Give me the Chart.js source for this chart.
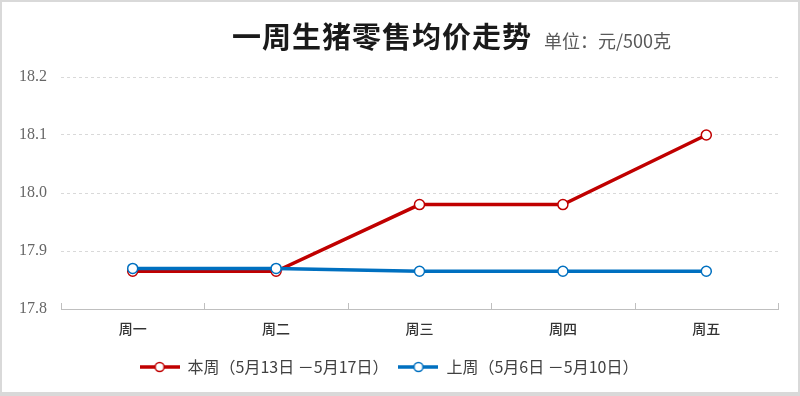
<!DOCTYPE html>
<html><head><meta charset="utf-8">
<script src="https://cdn.jsdelivr.net/npm/chart.js@4/dist/chart.umd.min.js"></script>
<style>
html,body{margin:0;padding:0;background:#fff;}
#wrap{position:relative;width:800px;height:396px;overflow:hidden;background:#fff;}
#frame{position:absolute;left:0;top:0;width:800px;height:396px;box-sizing:border-box;border:2px solid #d9d9d9;border-bottom:4px solid #d9d9d9;pointer-events:none;}
#title{position:absolute;left:232px;top:14px;white-space:nowrap;font-family:"Noto Sans CJK SC",sans-serif;}
#title .main{font-size:29px;font-weight:bold;color:#1a1a1a;letter-spacing:1px;}
#title .unit{font-size:18px;color:#595959;margin-left:12px;}
canvas{position:absolute;left:0;top:0;}
</style>
</head><body>
<div id="wrap">
<canvas id="c" width="800" height="396"></canvas>
<div id="title"><span class="main">一周生猪零售均价走势</span><span class="unit">单位：元/500克</span></div>
<div id="frame"></div>
</div>
<script>
const categories = ['周一','周二','周三','周四','周五'];
const thisWeekLabel = '本周（5月13日 －5月17日）';
const lastWeekLabel = '上周（5月6日 －5月10日）';
const thisWeek = [17.865, 17.865, 17.98, 17.98, 18.10];
const lastWeek = [17.87, 17.87, 17.865, 17.865, 17.865];
const yTicks = [17.8, 17.9, 18.0, 18.1, 18.2];

const RED = '#c00000', BLUE = '#0070c0';

function legendIcon(color){
  const cv = document.createElement('canvas');
  cv.width = 40; cv.height = 12;
  const g = cv.getContext('2d');
  g.strokeStyle = color; g.lineWidth = 3.5;
  g.beginPath(); g.moveTo(0,6); g.lineTo(40,6); g.stroke();
  g.beginPath(); g.arc(20,6,4.5,0,Math.PI*2);
  g.fillStyle = '#fff'; g.fill();
  g.lineWidth = 1.5; g.stroke();
  return cv;
}
const icons = [legendIcon(RED), legendIcon(BLUE)];

const innerTicks = {
  id:'innerTicks',
  afterDatasetsDraw(chart){
    const xs = chart.scales.x, ca = chart.chartArea, ctx = chart.ctx;
    ctx.save();
    ctx.strokeStyle = '#bfbfbf'; ctx.lineWidth = 1;
    for(let i=0;i<=categories.length;i++){
      const px = Math.round(xs.getPixelForValue(i-0.5))+0.5;
      ctx.beginPath(); ctx.moveTo(px, ca.bottom); ctx.lineTo(px, ca.bottom-6); ctx.stroke();
    }
    ctx.restore();
  }
};

new Chart(document.getElementById('c'), {
  type:'line',
  data:{
    labels: categories,
    datasets:[
      {label: thisWeekLabel, data: thisWeek, borderColor: RED, backgroundColor:'#fff',
       borderWidth:3.5, pointRadius:5, pointBorderWidth:1.5, pointBackgroundColor:'#fff',
       pointBorderColor: RED, tension:0, order:2},
      {label: lastWeekLabel, data: lastWeek, borderColor: BLUE, backgroundColor:'#fff',
       borderWidth:3.5, pointRadius:5, pointBorderWidth:1.5, pointBackgroundColor:'#fff',
       pointBorderColor: BLUE, tension:0, order:1}
    ]
  },
  options:{
    responsive:false, animation:false,
    layout:{padding:{top:77, left:0, right:22, bottom:11}},
    plugins:{
      tooltip:{enabled:false},
      title:{display:false},
      legend:{
        position:'bottom',
        labels:{
          usePointStyle:true, pointStyleWidth:40, boxHeight:12, padding:10,
          color:'#404040',
          font:{family:'"Noto Sans CJK SC"', size:16},
          generateLabels(chart){
            return [0,1].map(i=>({
              text: chart.data.datasets[i].label,
              pointStyle: icons[i],
              fillStyle:'#fff', strokeStyle: chart.data.datasets[i].borderColor,
              lineWidth:0, hidden:false, datasetIndex:i, fontColor:'#404040'
            }));
          }
        }
      }
    },
    scales:{
      x:{
        offset:true,
        grid:{display:false, drawTicks:false, offset:true},
        border:{display:true, color:'#bfbfbf', width:1},
        ticks:{color:'#333', padding:11, font:{family:'"Noto Sans CJK SC"', size:14, weight:'500'}},
        afterFit(s){ s.height = 40; }
      },
      y:{
        min:17.8, max:18.2,
        afterBuildTicks(s){ s.ticks = yTicks.map(v=>({value:v})); },
        grid:{color: c => c.tick && c.tick.value===17.8 ? 'rgba(0,0,0,0)' : '#d9d9d9', drawTicks:false, lineWidth:1},
        border:{display:false, dash:[3,3]},
        ticks:{color:'#666', padding:14, font:{family:'"Liberation Serif", "Noto Sans CJK SC"', size:16},
          callback: v => Number(v).toFixed(1)},
        afterFit(s){ s.width = 61; }
      }
    }
  },
  plugins:[innerTicks]
});
</script>
</body></html>
